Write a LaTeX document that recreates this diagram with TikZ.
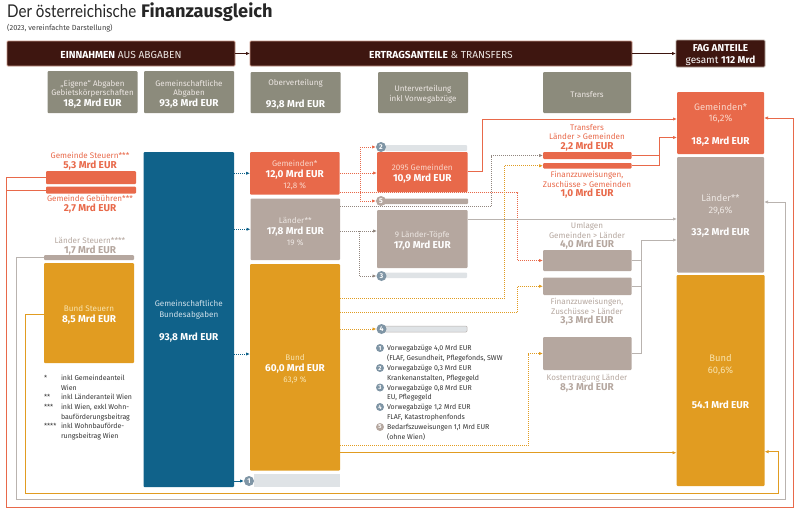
\documentclass[tikz,border=0pt]{standalone}
\usepackage{fontspec}
\setmainfont{Fira Sans}
\newfontfamily\lightf[FakeStretch=0.86]{Lato}
\usetikzlibrary{arrows.meta}
\definecolor{rd}{HTML}{E8694A}
\definecolor{tn}{HTML}{B5A79F}
\definecolor{yl}{HTML}{E19C21}
\definecolor{bl}{HTML}{10628A}
\definecolor{gy}{HTML}{8C8B7C}
\definecolor{dk}{HTML}{3E1610}
\definecolor{lightbar}{HTML}{DFE3E6}
\definecolor{cc}{HTML}{7F95A5}
\definecolor{lrd}{HTML}{FAD5C8}
\definecolor{ltn}{HTML}{EDE7E3}
\definecolor{lyl}{HTML}{F8E3AE}
\definecolor{lbl}{HTML}{CFE0EA}
\definecolor{ln}{HTML}{B9B3AF}
\newcommand\fs[2]{\fontsize{#1}{#2}\selectfont}
% box with text
\newcommand\bx[7][]{%
  \pgfmathsetmacro\bw{#5-#3}\pgfmathsetmacro\bh{#6-#4}%
  \pgfmathsetmacro\cxx{(#3+#5)/2}\pgfmathsetmacro\cyy{(#4+#6)/2}%
  \node[boxbase,minimum width=\bw pt,minimum height=\bh pt,#1] (#2) at (\cxx,\cyy) {\rule{0pt}{10pt}#7};}
% empty bar
\newcommand\br[6][]{%
  \pgfmathsetmacro\bw{#5-#3}\pgfmathsetmacro\bh{#6-#4}%
  \pgfmathsetmacro\cxx{(#3+#5)/2}\pgfmathsetmacro\cyy{(#4+#6)/2}%
  \node[boxbase,minimum width=\bw pt,minimum height=\bh pt,#1] (#2) at (\cxx,\cyy) {};}
\tikzset{
  boxbase/.style={inner sep=0pt,outer sep=0pt,rounded corners=1pt,align=center,text=white},
  hdr/.style={fill=dk,draw=#1,line width=0.9pt,font=\fs{10.2}{11}},
  top/.style={fill=gy,font=\fs{8}{9.6},text=ltn},
  rdb/.style={fill=rd,font=\fs{8.1}{11},text=lrd},
  tnb/.style={fill=tn,font=\fs{8.1}{11},text=ltn},
  ylb/.style={fill=yl,font=\fs{8.1}{11},text=lyl},
  blb/.style={fill=bl,font=\fs{8.1}{11},text=lbl},
  bigt/.style={font=\fs{9.4}{11.5}},
  lab/.style={inner sep=0pt,outer sep=0pt,align=center,yshift=-1pt,font=\fs{8.1}{9.6}},
  leg/.style={inner sep=0pt,outer sep=0pt,align=left,anchor=west,text=black!80,font=\fs{7}{9.65}},
  circ/.style={circle,minimum size=10pt,inner sep=0pt,outer sep=0pt,text=white,font=\fs{7}{8}\bfseries},
  tip/.style={-{Latex[length=4pt,width=3.4pt]}},
  con/.style={line width=1pt,#1},
  dot/.style={line width=0.8pt,dash pattern=on 0.9pt off 1.1pt,#1}
}
\newcommand\val[1]{{\bfseries\color{white}\fs{10}{11}#1}}
\newcommand\vallab[1]{{\bfseries\fs{10}{11}#1}}
\begin{document}
\begin{tikzpicture}[x=1pt,y=-1pt]
\useasboundingbox (0,0) rectangle (800,517);
% title
\node[inner sep=0pt,anchor=base west,text=black!85,font=\fs{18.2}{20}] (title) at (7,17) {{\lightf\fs{17.6}{20}Der österreichische} \textbf{Finanzausgleich}};
\node[inner sep=0pt,anchor=base west,text=black!75,font=\fs{7.4}{9}] (sub) at (7,30) {(2023, vereinfachte Darstellung)};
% headers
\bx[hdr=tn!70!rd]{hE}{7}{41}{235}{66}{\textbf{EINNAHMEN} \textcolor{ltn}{AUS ABGABEN}}
\bx[hdr=tn!70!rd]{hT}{250}{41}{632}{66}{\textbf{ERTRAGSANTEILE} \textcolor{ltn}{\& TRANSFERS}}
\bx[hdr=tn,font=\fs{10}{12}]{hF}{676}{40}{765}{67}{\textbf{FAG ANTEILE}\\[-0.5pt]{\fs{10}{11}gesamt \textbf{112 Mrd}}}
\draw[con=dk,tip] (hE) -- (hT);
\draw[con=dk,tip] (hT) -- (hF);
% top boxes
\bx[top]{t1}{47.5}{71}{137.5}{113}{„Eigene“ Abgaben\\Gebietskörperschaften\\[1pt]\val{18,2 Mrd EUR}}
\bx[top]{t2}{144}{71}{234}{113}{Gemeinschaftliche\\Abgaben\\[1pt]\val{93,8 Mrd EUR}}
\bx[top]{t3}{250.5}{72}{340.5}{113}{Oberverteilung\\[12pt]\val{93,8 Mrd EUR}}
\bx[top]{t4}{378}{72}{468}{113}{Unterverteilung\\inkl Vorwegabzüge}
\bx[top]{t5}{543}{72}{631}{113}{Transfers}
% left column
\node[lab,text=rd] (lGS) at (90,160) {Gemeinde Steuern***\\\vallab{5,3 Mrd EUR}};
\br[fill=rd]{gs}{46}{171}{136}{184}
\br[fill=rd]{gg}{46}{186.5}{136}{193.5}
\node[lab,text=rd] (lGG) at (90,203) {Gemeinde Gebühren***\\\vallab{2,7 Mrd EUR}};
\node[lab,text=tn] (lLS) at (90,245) {Länder Steuern****\\\vallab{1,7 Mrd EUR}};
\br[fill=tn]{ls}{44}{255}{134}{260}
\bx[ylb]{bs}{44}{263}{134}{363}{Bund Steuern\\\val{8,5 Mrd EUR}}
% footnotes
\node[leg,anchor=north west] (fa) at (44,375) {*\\\strut\\**\\***\\\strut\\****};
\node[leg,anchor=north west] (fb) at (61,375) {inkl Gemeindeanteil\\Wien\\inkl Länderanteil Wien\\inkl Wien, exkl Wohn-\\bauförderungsbeitrag\\inkl Wohnbauförde-\\rungsbeitrag Wien};
% blue
\bx[blb]{bl}{143.5}{152}{234}{487}{Gemeinschaftliche\\Bundesabgaben\\[12pt]\val{93,8 Mrd EUR}}
% middle
\bx[rdb]{gem}{250}{152}{339.5}{194.5}{Gemeinden*\\\val{12,0 Mrd EUR}\\12,8 \%}
\bx[tnb]{lae}{250.5}{198.5}{340}{260}{Länder**\\\val{17,8 Mrd EUR}\\19 \%}
\bx[ylb]{bnd}{250}{264}{340}{470.5}{Bund\\\val{60,0 Mrd EUR}\\63,9 \%}
\br[fill=lightbar,rounded corners=0pt]{b1}{254}{474}{340}{487}
\node[circ,fill=cc] (c1) at (249,481) {1};
% column 3
\br[fill=lightbar]{b2}{385}{145}{467}{151}
\node[circ,fill=cc] (c2) at (381,147) {2};
\bx[rdb]{gr}{377}{152}{467.5}{192}{2095 Gemeinden\\\val{10,9 Mrd EUR}}
\br[fill=tn]{b5}{382}{198.5}{468}{204}
\node[circ,fill=tn] (c5) at (381,201) {5};
\bx[tnb]{lt}{377}{210}{467.5}{268}{9 Länder-Töpfe\\\val{17,0 Mrd EUR}}
\br[fill=lightbar]{b3}{385}{272.5}{467}{278}
\node[circ,fill=cc] (c3) at (381.5,276) {3};
\br[fill=lightbar,draw=ln,line width=0.5pt]{b4}{385}{326}{467}{332}
\node[circ,fill=cc] (c4) at (381.5,329) {4};
% legend
\node[circ,fill=cc,minimum size=8pt,font=\fs{6}{7}\bfseries] (m1) at (380,348) {1};
\node[circ,fill=cc,minimum size=8pt,font=\fs{6}{7}\bfseries] (m2) at (380,368) {2};
\node[circ,fill=cc,minimum size=8pt,font=\fs{6}{7}\bfseries] (m3) at (380,387.5) {3};
\node[circ,fill=cc,minimum size=8pt,font=\fs{6}{7}\bfseries] (m4) at (380,407) {4};
\node[circ,fill=tn,minimum size=8pt,font=\fs{6}{7}\bfseries] (m5) at (380,427) {5};
\node[leg] (t1l) at (387,353.5) {Vorwegabzüge 4,0 Mrd EUR\\(FLAF, Gesundheit, Pflegefonds, SWW};
\node[leg] (t2l) at (387,373.5) {Vorwegabzüge 0,3 Mrd EUR\\Krankenanstalten, Pflegegeld};
\node[leg] (t3l) at (387,393) {Vorwegabzüge 0,8 Mrd EUR\\EU, Pflegegeld};
\node[leg] (t4l) at (387,412.5) {Vorwegabzüge 1,2 Mrd EUR\\FLAF, Katastrophenfonds};
\node[leg] (t5l) at (387,432.5) {Bedarfszuweisungen 1,1 Mrd EUR\\(ohne Wien)};
% transfers column
\node[lab,text=rd] (lTr) at (587,136.5) {Transfers\\Länder > Gemeinden\\\vallab{2,2 Mrd EUR}};
\br[fill=rd]{tr1}{543}{152}{631.5}{159}
\br[fill=rd]{tr2}{543}{163}{631.5}{168.5}
\node[lab,text=rd] (lFz) at (587,184) {Finanzzuweisungen,\\Zuschüsse > Gemeinden\\\vallab{1,0 Mrd EUR}};
\node[lab,text=tn] (lUm) at (587,235) {Umlagen\\Gemeinden > Länder\\\vallab{4,0 Mrd EUR}};
\br[fill=tn]{u1}{543}{250}{631.5}{271}
\br[fill=tn]{u2}{543}{277.5}{631.5}{295}
\node[lab,text=tn] (lFl) at (587,311) {Finanzzuweisungen,\\Zuschüsse > Länder\\\vallab{3,3 Mrd EUR}};
\br[fill=tn]{u3}{543}{337}{631.5}{370}
\node[lab,text=tn] (lKo) at (587,382.5) {Kostentragung Länder\\\vallab{8,3 Mrd EUR}};
% right column
\bx[rdb,bigt]{rG}{677}{92}{764}{154}{Gemeinden*\\16,2\%\\[11pt]\val{18,2 Mrd EUR}}
\bx[tnb,bigt]{rL}{677}{157}{764}{272.5}{Länder**\\29,6\%\\[11pt]\val{33,2 Mrd EUR}}
\bx[ylb,bigt]{rB}{676.5}{275}{764.5}{486}{Bund\\60,6\%\\[24pt]\val{54.1 Mrd EUR}}
% dotted from blue
\draw[dot=bl,tip] (bl.east |- gem) -- (gem.west);
\draw[dot=bl,tip] (bl.east |- lae) -- (lae.west);
\draw[dot=bl,tip] (bl.east |- 0,354) -- (bnd.west |- 0,354);
\draw[con=bl,tip] (bl.east |- c1) -- (c1.west);
% Gemeinden dotted
\coordinate (jr) at (360,173);
\draw[dot=rd,tip] (gem.east |- jr) -- (gr.west |- jr);
\draw[dot=rd] (jr |- c2) -- (jr |- c5);
\draw[dot=rd,tip] (jr |- c2) -- (c2.west);
\draw[dot=rd,tip] (jr |- c5) -- (c5.west);
\coordinate (jr2) at (517.5,192.8);
\draw[dot=rd,tip] (gem.east |- jr2) -- (jr2) -- (jr2 |- 0,260.5) -- (u1.west |- 0,260.5);
% Länder dotted
\coordinate (jg) at (491,206.7);
\draw[dot=tn!80!black,tip] (lae.east |- jg) -- (jg) -- (jg |- tr1) -- (tr1.west);
\coordinate (jl) at (359,231);
\draw[dot=tn!80!black,tip] (lae.east |- jl) -- (lt.west |- jl);
\draw[dot=tn!80!black,tip] (jl) -- (jl |- c3) -- (c3.west);
% Bund dotted
\coordinate (jy1) at (504.5,298.3);
\draw[dot=yl,tip] (bnd.east |- jy1) -- (jy1) -- (jy1 |- tr2) -- (tr2.west);
\coordinate (jy2) at (517.5,312.7);
\draw[dot=yl,tip] (bnd.east |- jy2) -- (jy2) -- (jy2 |- u2) -- (u2.west);
\draw[dot=yl,tip] (bnd.east |- c4) -- (c4.west);
\coordinate (jy3) at (528.3,445.4);
\draw[dot=yl,tip] (bnd.east |- jy3) -- (jy3) -- (jy3 |- u3) -- (u3.west);
\draw[con=yl,tip] (bnd.east |- 0,452.7) -- (rB.west |- 0,452.7);
% solid
\draw[con=rd,tip] (gr.east |- 0,171) -- (482,171) -- (482,119) -- (rG.west |- 0,119);
\draw[con=ln,tip] (lt.east |- 0,219) -- (rL.west |- 0,219);
\coordinate (jt) at (659.3,137.5);
\draw[con=rd] (tr1.east) -- (jt |- tr1);
\draw[con=rd,tip] (tr2.east) -- (jt |- tr2) -- (jt) -- (rG.west |- jt);
\coordinate (ju) at (641.7,240);
\draw[con=ln] (u1.east) -- (ju |- u1);
\draw[con=ln] (u2.east) -- (ju |- u2);
\draw[con=ln,tip] (u3.east) -- (ju |- u3) -- (ju) -- (rL.west |- ju);
% outer loops
\draw[con=rd] (gg.west) -- (6.5,190);
\draw[con=rd,tip] (gs.west) -- (6.5,177.5) -- (6.5,507) -- (793,507) -- (793,118) -- (rG.east |- 0,118);
\draw[con=ln,tip] (ls.west) -- (16.5,257.5) -- (16.5,499.7) -- (785,499.7) -- (785,202) -- (rL.east |- 0,202);
\draw[con=yl,tip] (bs.west |- 0,314.3) -- (25,314.3) -- (25,493.3) -- (778,493.3) -- (778,451.7) -- (rB.east |- 0,451.7);
\end{tikzpicture}
\end{document}
